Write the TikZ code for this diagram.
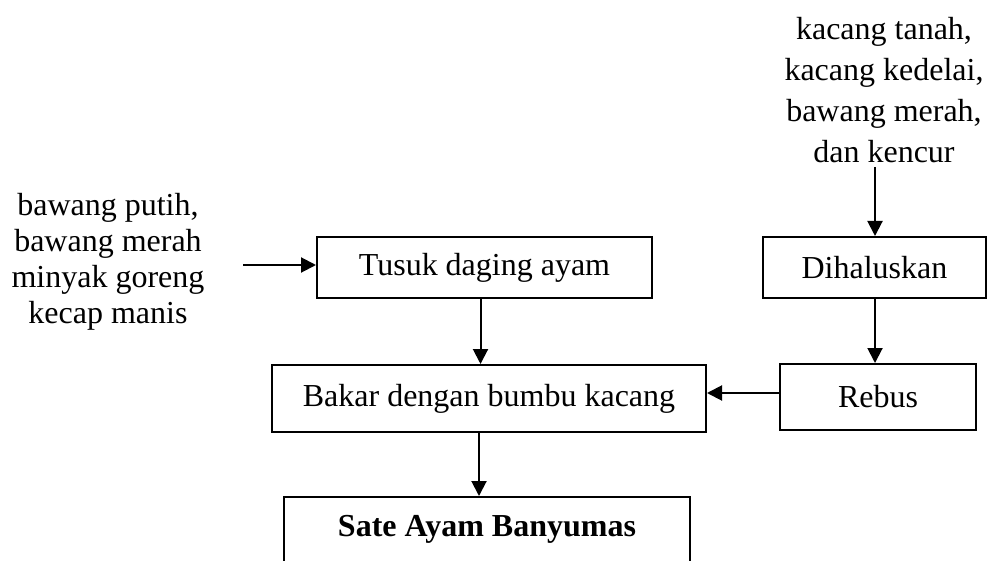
\documentclass[tikz,border=0pt]{standalone}
\usepackage{fontspec}
\setmainfont{Liberation Serif}
\usetikzlibrary{arrows.meta}

\tikzset{
	box/.style={draw, line width=1pt, inner sep=0pt, font=\fontsize{16}{19}\selectfont},
	bahan/.style={align=center, inner sep=0pt},
	panah/.style={line width=1pt, -{Triangle[length=7.5pt,width=7.5pt]}}
}

\begin{document}
\begin{tikzpicture}[x=0.5pt, y=-0.5pt]
			\useasboundingbox (0,0) rectangle (989,561);
			% bahan
			\node[bahan, font=\fontsize{16}{18}\selectfont] (bumbu1) at (108,262)
				{bawang putih,\\bawang merah\\minyak goreng\\kecap manis};
			\node[bahan, font=\fontsize{16}{20.5}\selectfont] (bumbu2) at (884,90)
				{kacang tanah,\\kacang kedelai,\\bawang merah,\\dan kencur};
			\coordinate (masuk1) at (243,265);
			\coordinate (masuk2) at (875,167);
			% proses
			\node[box, minimum width=167.5pt, minimum height=30.5pt] (tusuk) at (484.5,267.5) {Tusuk daging ayam};
			\node[box, minimum width=111.5pt, minimum height=30.5pt] (halus) at (874.5,267.5) {Dihaluskan};
			\node[box, minimum width=217pt, minimum height=33.5pt] (bakar) at (489,398.5) {Bakar dengan bumbu kacang};
			\node[box, minimum width=98pt, minimum height=33pt] (rebus) at (878,397) {Rebus};
			\node[box, minimum width=203pt, minimum height=50pt] (sate) at (487,547) {};
			\node[font=\fontsize{16}{19}\selectfont\bfseries] (sateteks) at (487,529) {Sate Ayam Banyumas};
			% panah
			\draw[panah] (masuk1) -- (masuk1 -| tusuk.west);
			\draw[panah] (masuk2) -- (masuk2 |- halus.north);
			\draw[panah] (halus.south -| masuk2) -- (masuk2 |- rebus.north);
			\draw[panah] ([xshift=-2pt]tusuk.south) -- ([xshift=-2pt]tusuk.south |- bakar.north);
			\draw[panah] (rebus.west |- 0,393) -- (bakar.east |- 0,393);
			\draw[panah] ([xshift=-5pt]bakar.south) -- ([xshift=-5pt]bakar.south |- sate.north);
\end{tikzpicture}
\end{document}
